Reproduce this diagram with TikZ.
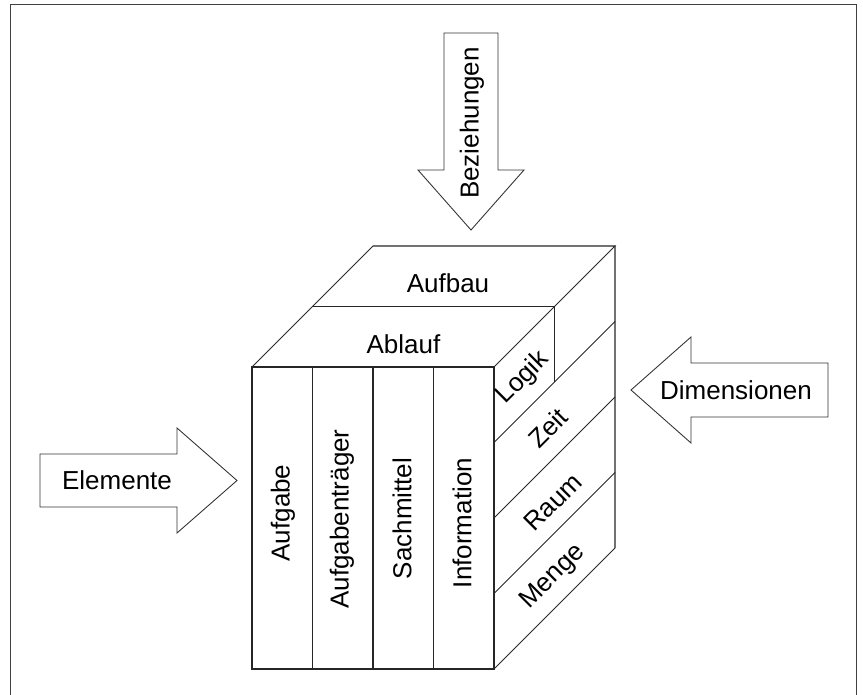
\documentclass[tikz,border=0pt]{standalone}
\usepackage{fontspec}
\setmainfont{Liberation Sans}
\usetikzlibrary{calc}

\begin{document}
\begin{tikzpicture}[
    x=0.02cm, y=-0.02cm,
    every node/.style={font=\fontsize{14.8}{18}\selectfont, inner sep=0pt},
    edge/.style={draw=black!85, line width=0.6pt},
    frame/.style={draw=black!75, line width=0.8pt},
    bigarrow/.style={draw=black!80, line width=0.5pt, fill=white}
]
\useasboundingbox (0,0) rectangle (863,695);

% frame (open at the bottom)
\draw[frame] (10.5,695) -- (10.5,4.5) -- (856.5,4.5) -- (856.5,695);

% cube corners
\coordinate (fl) at (252,367);   % front top left
\coordinate (fr) at (494,367);   % front top right
\coordinate (bl) at (373,246);   % back top left
\coordinate (br) at (615,246);   % back top right
\coordinate (flb) at (252,669);  % front bottom left
\coordinate (frb) at (494,669);  % front bottom right
\coordinate (brb) at (615,548);  % back bottom right

% front face with the four elements
\draw[edge] (fl) rectangle (frb);
\foreach \i in {1,2,3}
    \draw[edge] ($(fl)!\i/4!(fr)$) -- ($(flb)!\i/4!(frb)$);

% top face, split into Aufbau and Ablauf
\draw[edge] (fl) -- (bl) -- (br) -- (fr);
\draw[edge] ($(fl)!0.5!(bl)$) coordinate (ml) -- ($(fr)!0.5!(br)$) coordinate (mr);

% right face, split into the dimensions
\draw[edge] (br) -- (brb) -- (frb);
\foreach \i in {1,2,3}
    \draw[edge] ($(fr)!\i/4!(frb)$) -- ($(br)!\i/4!(brb)$);
\draw[edge] (mr) -- ($(mr)!1/4!($(mr)+(0,302)$)$);

% labels on the cube
\node (aufbau) at (448,283) {Aufbau};
\node (ablauf) at (403.5,344) {Ablauf};

\node[rotate=90] (aufgabe) at (283,513) {Aufgabe};
\node[rotate=90] (traeger) at (342,519) {Aufgabenträger};
\node[rotate=90] (sachmittel) at (402,518.5) {Sachmittel};
\node[rotate=90] (information) at (462,523) {Information};

\node[rotate=45] (logik) at (523,378) {Logik};
\node[rotate=45] (zeit) at (548,428) {Zeit};
\node[rotate=45] (raum) at (553,502) {Raum};
\node[rotate=45] (menge) at (553,577) {Menge};

% big arrows
\draw[bigarrow] (444,33) -- (498,33) -- (498,170) -- (524,170) -- (471,230)
    -- (418,170) -- (444,170) -- cycle;
\node[rotate=90] (beziehungen) at (472,123) {Beziehungen};

\draw[bigarrow] (40,454) -- (177,454) -- (177,428) -- (237,480.5) -- (177,533)
    -- (177,507) -- (40,507) -- cycle;
\node (elemente) at (117,480) {Elemente};

\draw[bigarrow] (828,363) -- (691,363) -- (691,337) -- (631,390) -- (691,443)
    -- (691,417) -- (828,417) -- cycle;
\node (dimensionen) at (736,390) {Dimensionen};

\end{tikzpicture}
\end{document}
